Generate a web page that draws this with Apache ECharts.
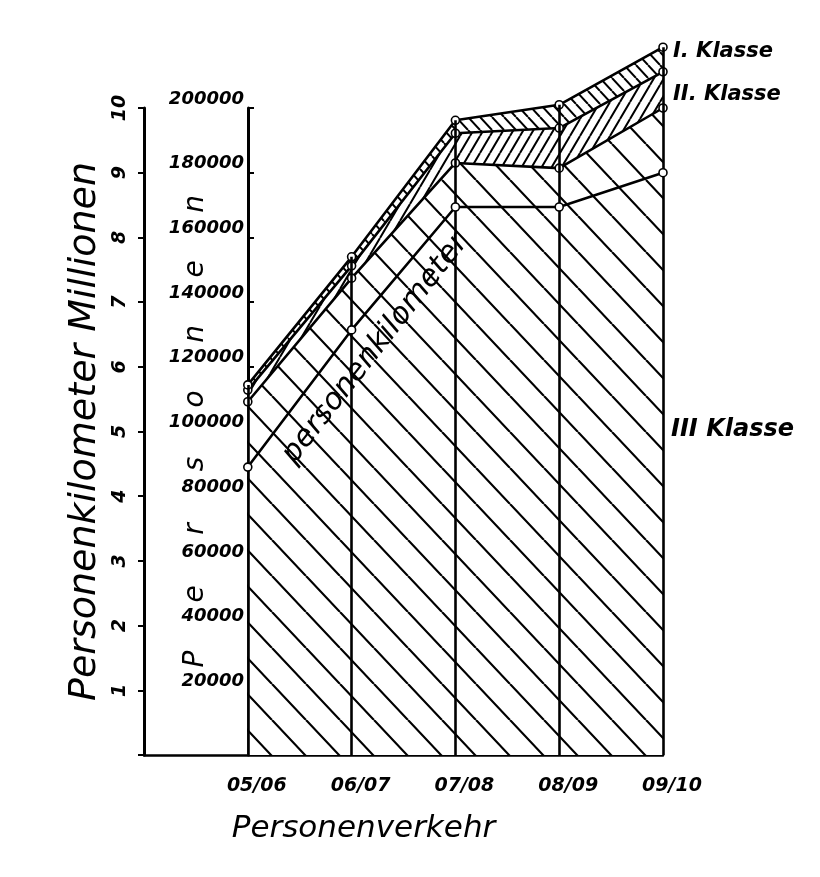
<!DOCTYPE html>
<html>
<head>
<meta charset="utf-8">
<script src="https://cdn.jsdelivr.net/npm/echarts@6/dist/echarts.min.js"></script>
<style>
html, body { margin: 0; padding: 0; background: #fff; }
#chart { width: 820px; height: 877px; }
</style>
</head>
<body>
<div id="chart"></div>
<script>
// Jahre (Personenverkehr)
var years = ['05/06', '06/07', '07/08', '08/09', '09/10'];
// beförderte Personen je Klasse (gestapelt)
var klasse3 = [109200, 147400, 183000, 181400, 200000];
var klasse2 = [3600, 3800, 9200, 12400, 11200];
var klasse1 = [1600, 2800, 4000, 7200, 7600];
// Personenkilometer in Millionen
var pkm = [4.45, 6.57, 8.47, 8.47, 9.0];
// Achsen
var pkmTicks = [1, 2, 3, 4, 5, 6, 7, 8, 9, 10];
var personenTicks = [20000, 40000, 60000, 80000, 100000, 120000, 140000, 160000, 180000, 200000];

var FONT = 'DejaVu Sans';

function hatch(w, h, dir, lw) {
  var c = document.createElement('canvas');
  c.width = w; c.height = h;
  var ctx = c.getContext('2d');
  ctx.fillStyle = '#fff';
  ctx.fillRect(0, 0, w, h);
  ctx.strokeStyle = '#000';
  ctx.lineWidth = lw;
  ctx.beginPath();
  for (var k = -1; k <= 1; k++) {
    if (dir > 0) {
      ctx.moveTo(k * w, h); ctx.lineTo(k * w + w, 0);
    } else {
      ctx.moveTo(k * w, 0); ctx.lineTo(k * w + w, h);
    }
  }
  ctx.stroke();
  return { image: c, repeat: 'repeat' };
}

var cats = [''].concat(years);
var totals = years.map(function (y, i) { return klasse3[i] + klasse2[i] + klasse1[i]; });

function lineSeries(name, data, pattern, endLabel) {
  return {
    name: name,
    type: 'line',
    xAxisIndex: 1,
    yAxisIndex: 1,
    stack: 'personen',
    data: [null].concat(data),
    symbol: 'circle',
    symbolSize: 8,
    showSymbol: true,
    itemStyle: { color: '#fff', borderColor: '#000', borderWidth: 1.6 },
    lineStyle: { color: '#000', width: 2.6 },
    areaStyle: { color: pattern, opacity: 1 },
    endLabel: endLabel,
    z: 3
  };
}

var chart = echarts.init(document.getElementById('chart'));

var option = {
  animation: false,
  backgroundColor: '#fff',
  textStyle: { fontFamily: FONT, fontStyle: 'italic', color: '#000' },
  grid: [
    { left: 144, right: 157, top: 108, bottom: 122 },
    { left: 144, right: 157, top: 43.3, bottom: 122 },
    { left: 248, right: 157, top: 108, bottom: 122 }
  ],
  xAxis: [
    {
      gridIndex: 0, type: 'category', data: cats, boundaryGap: false,
      axisLine: { lineStyle: { color: '#000', width: 2.5 } },
      axisTick: { show: false },
      axisLabel: {
        color: '#000', fontFamily: FONT, fontStyle: 'italic', fontWeight: 'bold',
        fontSize: 19, margin: 22, padding: [0, 0, 0, 18]
      },
      name: 'Personenverkehr', nameLocation: 'middle', nameGap: 58, nameMoveOverlap: false,
      nameTextStyle: { fontFamily: FONT, fontStyle: 'italic', fontSize: 31, color: '#000', padding: [0, 80, 0, 0] }
    },
    { gridIndex: 1, type: 'category', data: cats, boundaryGap: false, show: false },
    { gridIndex: 2, type: 'value', show: false }
  ],
  yAxis: [
    {
      gridIndex: 0, type: 'value', min: 0, max: 10, interval: 1, position: 'left',
      axisLine: { show: true, lineStyle: { color: '#000', width: 3 } },
      axisTick: { show: true, length: 6, lineStyle: { color: '#000', width: 2 } },
      splitLine: { show: false },
      axisLabel: {
        color: '#000', fontFamily: FONT, fontStyle: 'italic', fontWeight: 'bold', fontSize: 19, rotate: 90, margin: 14,
        formatter: function (v) { return pkmTicks.indexOf(v) >= 0 ? String(v) : ''; }
      },
      name: 'Personenkilometer Millionen', nameLocation: 'middle', nameGap: 40, nameRotate: 90, nameMoveOverlap: false,
      nameTextStyle: { fontFamily: FONT, fontStyle: 'italic', fontSize: 38, color: '#000' }
    },
    { gridIndex: 1, type: 'value', min: 0, max: 220000, show: false },
    { gridIndex: 1, type: 'value', min: 0, max: 11, show: false },
    {
      gridIndex: 2, type: 'value', min: 0, max: 200000, interval: 20000, position: 'left',
      axisLine: { show: true, lineStyle: { color: '#000', width: 3 } },
      axisTick: { show: true, inside: true, length: 6, lineStyle: { color: '#000', width: 2 } },
      splitLine: { show: false },
      axisLabel: {
        color: '#000', fontFamily: FONT, fontStyle: 'italic', fontWeight: 'bold', fontSize: 18,
        margin: 4, verticalAlign: 'bottom',
        formatter: function (v) { return personenTicks.indexOf(v) >= 0 ? String(v) : ''; }
      },
      name: '{a|P}{a|e}{a|r}{a|s}{a|o}{a|n}{a|e}{a|n}', nameLocation: 'middle', nameGap: 38, nameRotate: 90,
      nameMoveOverlap: false,
      nameTextStyle: {
        fontFamily: FONT, fontStyle: 'italic', fontSize: 28, color: '#000',
        rich: { a: { width: 65, align: 'center', fontFamily: FONT, fontStyle: 'italic', fontSize: 28 } }
      }
    }
  ],
  series: [
    lineSeries('III Klasse', klasse3, hatch(34, 36, -1, 2.2), {
      show: true, formatter: 'III Klasse', offset: [0, 322],
      fontFamily: FONT, fontStyle: 'italic', fontWeight: 'bold', fontSize: 24, color: '#000'
    }),
    lineSeries('II. Klasse', klasse2, hatch(10, 17, 1, 2), {
      show: true, formatter: 'II. Klasse', offset: [2, 23],
      fontFamily: FONT, fontStyle: 'italic', fontWeight: 'bold', fontSize: 21, color: '#000'
    }),
    (function () {
      var s = lineSeries('I. Klasse', klasse1, hatch(12, 13, -1, 2), {
        show: true, formatter: 'I. Klasse', offset: [2, 4],
        fontFamily: FONT, fontStyle: 'italic', fontWeight: 'bold', fontSize: 21, color: '#000'
      });
      s.markLine = {
        silent: true,
        symbol: 'none',
        label: { show: false },
        lineStyle: { color: '#000', width: 2.6, type: 'solid' },
        data: years.map(function (y, i) {
          return [{ coord: [y, 0] }, { coord: [y, totals[i]] }];
        })
      };
      return s;
    })(),
    {
      name: 'Personenkilometer',
      type: 'line',
      xAxisIndex: 1,
      yAxisIndex: 2,
      data: [null].concat(pkm.map(function (v, i) {
        if (i === 1) {
          return {
            value: v,
            label: {
              show: true, formatter: 'personenkilometer', position: 'inside', rotate: 52,
              offset: [0, 30], fontFamily: FONT, fontStyle: 'italic', fontSize: 30, color: '#000'
            }
          };
        }
        return v;
      })),
      symbol: 'circle',
      symbolSize: 8,
      itemStyle: { color: '#fff', borderColor: '#000', borderWidth: 1.6 },
      lineStyle: { color: '#000', width: 2.6 },
      z: 5
    }
  ]
};

chart.setOption(option);
</script>
</body>
</html>
